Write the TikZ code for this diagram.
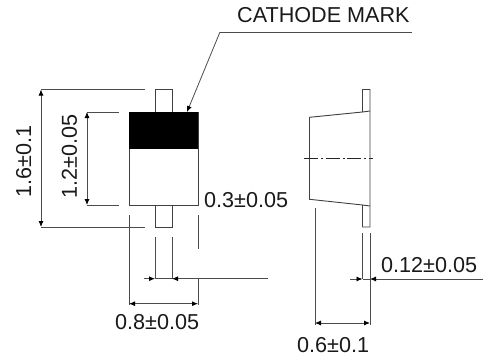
\documentclass[tikz,border=0pt]{standalone}
\usepackage{fontspec}
\setmainfont{Liberation Sans}
\usetikzlibrary{arrows.meta}
\tikzset{
  x=1pt,y=-1pt,
  dimline/.style={line width=0.8pt,black!70},
  outline/.style={line width=0.9pt,black!75},
  dimarrow/.style={line width=0.8pt,black!70,-{Latex[length=6pt,width=5pt,black]}},
  dimboth/.style={line width=0.8pt,black!70,{Latex[length=6pt,width=5pt,black]}-{Latex[length=6pt,width=5pt,black]}},
  dimtext/.style={inner sep=0pt,font=\fontsize{21.6pt}{24pt}\selectfont,text=black!90},
  centerline/.style={line width=0.8pt,black!85,dash pattern=on 14pt off 3pt on 2pt off 2.5pt}
}
\begin{document}
\begin{tikzpicture}
\useasboundingbox (0,0) rectangle (483,356);
\coordinate (bodyTL) at (129,112);
\coordinate (bodyBR) at (198,205);
\coordinate (leadTopL) at (155,89.5);
\coordinate (leadTopR) at (172,89.5);
\coordinate (leadBotL) at (155,227);
\coordinate (leadBotR) at (172,227);
% left view
\draw[outline] (bodyTL) rectangle (bodyBR);
\fill[black] (129,111.5) rectangle (198,149);
\draw[outline] (155,112) -- (leadTopL) -- (leadTopR) -- (172,112);
\draw[outline] (155,205) -- (leadBotL) -- (leadBotR) -- (172,205);
% height dimensions
\coordinate (h16a) at (41,89.5); \coordinate (h16b) at (41,227);
\coordinate (h12a) at (87,112); \coordinate (h12b) at (87,205);
\draw[dimline] (h16a) -- (145,89.5);
\draw[dimline] (h16b) -- (145,227);
\draw[dimline] (h12a) -- (119,112);
\draw[dimline] (h12b) -- (119,205);
\draw[dimboth] (h16a) -- (h16b);
\draw[dimboth] (h12a) -- (h12b);
\node[dimtext,rotate=90,anchor=base west] (t16) at (31,198) {1.6±0.1};
\node[dimtext,rotate=90,anchor=base west] (t12) at (77,199) {1.2±0.05};
% leader
\coordinate (leaderEnd) at (412,32);
\coordinate (leaderKnee) at (220,32);
\coordinate (leaderTip) at (187,112);
\draw[dimline] (leaderEnd) -- (leaderKnee);
\draw[dimarrow] (leaderKnee) -- (leaderTip);
\node[dimtext,anchor=base west] (mark) at (237,23) {CATHODE MARK};
% extension lines left view
\draw[dimline] (129,215) -- (129,305);
\draw[dimline] (198,215) -- (198,249);
\draw[dimline] (198,278.7) -- (198,305);
\draw[dimline] (155,237) -- (155,279);
\draw[dimline] (172,237) -- (172,279);
\coordinate (a1) at (144,278.7); \coordinate (a2) at (155,278.7);
\coordinate (b1) at (267.5,278.7); \coordinate (b2) at (172,278.7);
\draw[dimline] (a2) -- (b2);
\draw[dimarrow] (a1) -- (a2);
\draw[dimarrow] (b1) -- (b2);
\coordinate (w1) at (129,303.7); \coordinate (w2) at (198,303.7);
\draw[dimboth] (w1) -- (w2);
\node[dimtext,anchor=base west] (t08) at (115,329) {0.8±0.05};
\node[dimtext,anchor=base west] (t03) at (204,207) {0.3±0.05};
% right view
\draw[outline] (309.5,117.3) -- (362.5,112) -- (362.5,89.5) -- (370,89.5) -- (370,227) -- (362.5,227) -- (362.5,205) -- (309.5,199.3) -- cycle;
\draw[outline] (362.5,112) -- (370,111);
\draw[outline] (362.5,205) -- (370,206);
\coordinate (c1) at (304,158.5); \coordinate (c2) at (373,158.5);
\draw[centerline] (c1) -- (c2);
\draw[dimline] (315,208) -- (315,325);
\draw[dimline] (370,233) -- (370,325);
\draw[dimline] (362.5,233) -- (362.5,279);
\coordinate (d1) at (350,279); \coordinate (d2) at (362.5,279);
\coordinate (e1) at (483,279); \coordinate (e2) at (370,279);
\draw[dimline] (d2) -- (e2);
\draw[dimarrow] (d1) -- (d2);
\draw[dimarrow] (e1) -- (e2);
\coordinate (f1) at (315,323); \coordinate (f2) at (370,323);
\draw[dimboth] (f1) -- (f2);
\node[dimtext,anchor=base west] (t012) at (381,272) {0.12±0.05};
\node[dimtext,anchor=base west] (t06) at (297,352.5) {0.6±0.1};
\end{tikzpicture}
\end{document}
